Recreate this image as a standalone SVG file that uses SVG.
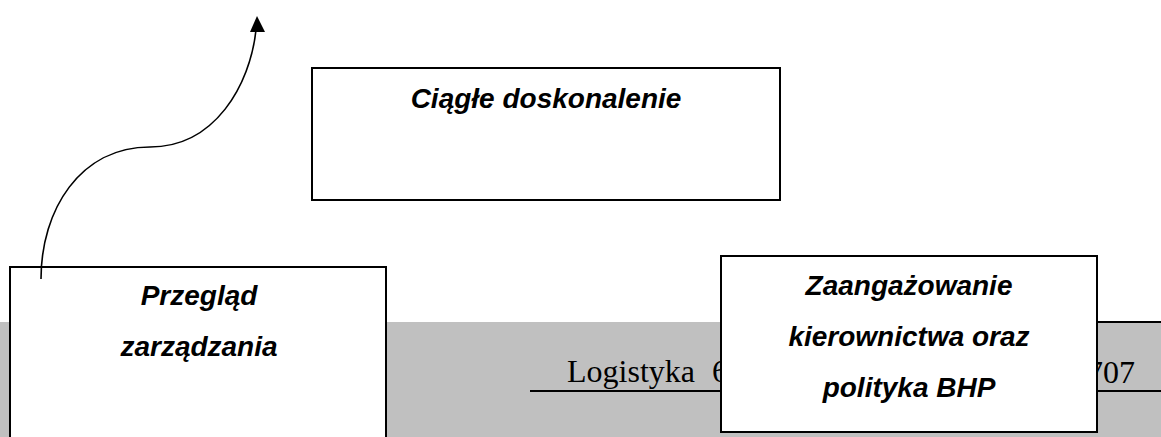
<svg xmlns="http://www.w3.org/2000/svg" width="1161" height="437" viewBox="0 0 1161 437">
  <style>
    .box { fill: #ffffff; stroke: #000000; stroke-width: 2; }
    .label { font-family: "Liberation Sans", Arial, sans-serif; font-weight: bold; font-style: italic; font-size: 28px; fill: #000000; text-anchor: middle; }
    .page { font-family: "Liberation Serif", "Times New Roman", serif; font-size: 32px; fill: #000000; }
    .rule { stroke: #000000; stroke-width: 2; }
    .flow { fill: none; stroke: #000000; stroke-width: 1.6; }
    .head { fill: #000000; }
  </style>

  <rect width="1161" height="437" fill="#ffffff"/>

  <!-- page footer band -->
  <g id="footer">
    <rect x="0" y="322" width="1161" height="115" fill="#c0c0c0"/>
    <line class="rule" x1="1097" y1="322" x2="1161" y2="322"/>
    <line class="rule" x1="530" y1="391" x2="1161" y2="391"/>
    <text class="page" x="567" y="382">Logistyka</text>
    <text class="page" x="712" y="382">6</text>
    <text class="page" x="1135" y="383" text-anchor="end">707</text>
  </g>

  <g id="node-ciagle">
    <rect class="box" x="312" y="68" width="468" height="132"/>
    <text class="label" x="546" y="108">Ciągłe doskonalenie</text>
  </g>

  <g id="node-przeglad">
    <rect class="box" x="10" y="267" width="376" height="180"/>
    <text class="label" x="199" y="305">Przegląd</text>
    <text class="label" x="199" y="356">zarządzania</text>
  </g>

  <g id="node-zaangazowanie">
    <rect class="box" x="721" y="256" width="376" height="176"/>
    <text class="label" x="909" y="295">Zaangażowanie</text>
    <text class="label" x="909" y="346">kierownictwa oraz</text>
    <text class="label" x="909" y="397">polityka BHP</text>
  </g>

  <g id="connectors">
    <path class="flow" d="M41,279 C41,210 80,147 150,147 C215,147 250,85 256,30"/>
    <path class="head" d="M257,16 L250,32 L265,32 Z"/>
  </g>
</svg>
